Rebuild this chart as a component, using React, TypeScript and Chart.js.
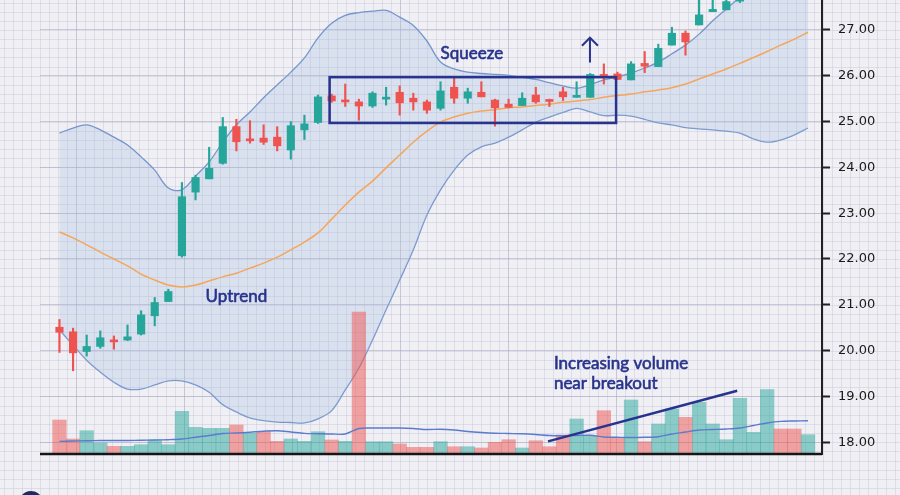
import React, { useEffect, useRef } from 'react';
import { Chart, registerables } from 'chart.js';

Chart.register(...registerables);

// ---- Candles (price) ----
const OPEN = [20.51, 20.41, 19.98, 20.09, 20.23, 20.23, 20.36, 20.76, 21.07, 22.07, 23.46, 23.75, 24.09, 24.89, 24.61, 24.64, 24.66, 24.38, 24.82, 24.98, 25.56, 25.47, 25.43, 25.34, 25.49, 25.64, 25.51, 25.43, 25.29, 25.75, 25.51, 25.64, 25.47, 25.38, 25.35, 25.58, 25.46, 25.65, 25.53, 25.53, 26.03, 26.04, 25.91, 26.27, 26.20, 26.67, 26.93, 27.11, 27.40, 27.44, 27.63, 27.90, 28.05, 28.40, 28.25, 28.05];
const HIGH = [20.68, 20.49, 20.34, 20.43, 20.32, 20.56, 20.87, 21.16, 21.34, 23.67, 23.83, 24.44, 25.09, 25.05, 25.02, 24.93, 24.89, 25.00, 25.14, 25.58, 25.60, 25.82, 25.49, 25.65, 25.75, 25.78, 25.62, 25.47, 25.87, 25.97, 25.73, 25.87, 25.49, 25.49, 25.63, 25.75, 25.49, 25.75, 25.87, 26.05, 26.26, 26.08, 26.31, 26.53, 26.69, 27.06, 26.98, 27.80, 27.80, 27.85, 28.00, 28.15, 28.45, 28.50, 28.35, 28.50];
const LOW = [19.96, 19.56, 19.88, 20.05, 20.03, 20.22, 20.34, 20.54, 21.07, 22.04, 23.29, 23.75, 24.07, 24.36, 24.53, 24.50, 24.36, 24.18, 24.61, 24.96, 25.42, 25.33, 25.03, 25.31, 25.36, 25.14, 25.25, 25.18, 25.25, 25.40, 25.40, 25.54, 24.90, 25.30, 25.35, 25.40, 25.33, 25.46, 25.53, 25.53, 25.82, 25.92, 25.91, 26.07, 26.20, 26.67, 26.45, 27.11, 27.40, 27.44, 27.60, 27.85, 28.00, 28.15, 28.00, 28.00];
const CLOSE = [20.40, 19.95, 20.09, 20.28, 20.19, 20.30, 20.78, 21.05, 21.29, 23.36, 23.78, 23.98, 24.89, 24.56, 24.58, 24.55, 24.47, 24.91, 24.95, 25.54, 25.45, 25.43, 25.34, 25.62, 25.51, 25.41, 25.43, 25.25, 25.67, 25.51, 25.65, 25.54, 25.30, 25.31, 25.51, 25.43, 25.44, 25.54, 25.56, 26.03, 25.97, 25.92, 26.26, 26.21, 26.60, 26.93, 26.74, 27.33, 27.45, 27.62, 27.90, 28.10, 28.40, 28.20, 28.05, 28.45];

// ---- Bollinger bands ----
const UPPER = [24.75, 24.86, 24.93, 24.82, 24.66, 24.49, 24.23, 23.94, 23.55, 23.51, 23.81, 24.12, 24.55, 24.93, 25.21, 25.52, 25.80, 26.08, 26.39, 26.83, 27.15, 27.32, 27.38, 27.41, 27.43, 27.28, 27.10, 26.76, 26.30, 26.15, 26.08, 26.05, 26.03, 26.01, 25.97, 25.92, 25.85, 25.78, 25.73, 25.81, 25.91, 25.98, 26.06, 26.17, 26.30, 26.48, 26.67, 26.91, 27.20, 27.46, 27.72, 27.98, 28.22, 28.44, 28.66, 28.86];
const MIDDLE = [22.59, 22.46, 22.31, 22.15, 22.00, 21.85, 21.67, 21.54, 21.43, 21.39, 21.43, 21.52, 21.61, 21.69, 21.80, 21.91, 22.04, 22.20, 22.37, 22.57, 22.87, 23.18, 23.46, 23.70, 23.99, 24.27, 24.55, 24.79, 24.99, 25.10, 25.18, 25.23, 25.26, 25.30, 25.32, 25.35, 25.38, 25.42, 25.45, 25.48, 25.53, 25.57, 25.60, 25.65, 25.69, 25.74, 25.82, 25.93, 26.04, 26.15, 26.27, 26.40, 26.53, 26.67, 26.80, 26.95];
const LOWER = [20.45, 20.12, 19.79, 19.53, 19.31, 19.16, 19.16, 19.25, 19.34, 19.34, 19.25, 19.09, 18.82, 18.66, 18.53, 18.47, 18.44, 18.43, 18.42, 18.51, 18.69, 19.14, 19.62, 20.23, 20.89, 21.54, 22.20, 22.96, 23.51, 23.94, 24.27, 24.45, 24.53, 24.66, 24.82, 24.99, 25.10, 25.20, 25.29, 25.21, 25.13, 25.14, 25.12, 25.05, 24.97, 24.93, 24.87, 24.84, 24.82, 24.79, 24.75, 24.62, 24.55, 24.60, 24.71, 24.86];

// ---- Volume ----
const VOLUME = [34, 15, 23.3, 11, 7.7, 7.7, 9.3, 14, 9.3, 42.7, 26.7, 25.7, 25.7, 29, 20.7, 22.7, 12.7, 15, 12.7, 22.3, 14, 12.7, 142, 12.3, 12.3, 10, 6.7, 6.7, 12.3, 7.3, 7.3, 6, 11.7, 14.3, 6, 13.3, 7.3, 19, 35, 18.3, 43.3, 15.7, 54, 12.3, 30, 45, 36.7, 51.7, 30, 14.3, 55.7, 21.7, 64.3, 25, 25, 19.3];
const VOLUME_DIR = ['d', 'd', 'u', 'u', 'd', 'u', 'u', 'u', 'u', 'u', 'u', 'u', 'u', 'd', 'u', 'd', 'd', 'u', 'u', 'u', 'd', 'u', 'd', 'u', 'u', 'd', 'd', 'd', 'u', 'd', 'u', 'd', 'd', 'd', 'u', 'd', 'd', 'd', 'u', 'u', 'd', 'd', 'u', 'd', 'u', 'u', 'd', 'u', 'u', 'u', 'u', 'u', 'u', 'd', 'd', 'u'];
const VOLUME_MA = [12.6, 13, 13.3, 13.5, 13.5, 13.5, 13.7, 14, 14.3, 15, 16.8, 18.5, 20.5, 21, 21.8, 22.8, 23.3, 22, 20.6, 20.3, 20, 20, 25.5, 26, 26, 26, 25.5, 24.5, 24.8, 24, 22.5, 21.5, 20.8, 20.5, 20.2, 19.5, 18.5, 18.3, 18.5, 18.7, 17, 16.7, 16.5, 16.7, 17.3, 20, 22, 24, 24.5, 25, 26, 28.5, 31, 32.6, 33, 33.3];
const VOLUME_AXIS_MAX = 454;

// ---- Axes ----
const Y_MIN = 17.742;
const Y_MAX = 27.655;
const X_MIN = -1.43;
const X_MAX = 56.03;

// ---- Annotations (data units) ----
const SQUEEZE_BOX = { x0: 19.85, x1: 40.9, yTop: 25.97, yBottom: 24.97 };
const ARROW = { x: 38.98, yBase: 26.29, yTip: 26.83 };
const VOLUME_TREND = { x0: 35.9, v0: 12.6, x1: 49.8, v1: 63.3 };
const LABEL_SQUEEZE = { text: 'Squeeze', x: 30.3, y: 26.48 };
const LABEL_UPTREND = { text: 'Uptrend', x: 13.0, y: 21.17 };
const LABEL_VOLUME = [
  { text: 'Increasing volume', x: 36.33, y: 19.71 },
  { text: 'near breakout', x: 36.33, y: 19.29 },
];

const NAVY = '#27338c';
const UP = '#26a69a';
const DOWN = '#ef5350';

const bgPlugin = {
  id: 'bgGrid',
  beforeDraw(chart: any) {
    const { ctx, width, height, chartArea, scales } = chart;
    const y = scales.y;
    ctx.save();
    ctx.fillStyle = '#efeff4';
    ctx.fillRect(0, 0, width, height);
    ctx.strokeStyle = 'rgba(196,196,216,0.42)';
    ctx.lineWidth = 1;
    ctx.beginPath();
    for (let xx = 4; xx < width; xx += 9) {
      ctx.moveTo(Math.round(xx) + 0.5, 0);
      ctx.lineTo(Math.round(xx) + 0.5, height);
    }
    const p27 = y.getPixelForValue(27);
    const step = (y.getPixelForValue(26) - p27) / 5;
    let start = p27 % step;
    for (let yy = start; yy < height; yy += step) {
      ctx.moveTo(0, Math.round(yy) + 0.5);
      ctx.lineTo(width, Math.round(yy) + 0.5);
    }
    ctx.stroke();
    ctx.strokeStyle = 'rgba(170,170,196,0.45)';
    ctx.beginPath();
    for (let xx = 616; xx > chartArea.left; xx -= 108) {
      ctx.moveTo(xx + 0.5, chartArea.top);
      ctx.lineTo(xx + 0.5, chartArea.bottom);
    }
    ctx.stroke();
    ctx.restore();
  },
};

function drawLabel(ctx: any, text: string, px: number, py: number) {
  ctx.fillText(text, px, py);
  ctx.strokeText(text, px, py);
}

const annotPlugin = {
  id: 'annot',
  afterDatasetsDraw(chart: any) {
    const { ctx, chartArea, scales } = chart;
    const x = scales.x, y = scales.y, yv = scales.yv;
    ctx.save();
    // x axis line
    ctx.strokeStyle = '#161616';
    ctx.lineWidth = 2.5;
    ctx.beginPath();
    ctx.moveTo(chartArea.left, chartArea.bottom);
    ctx.lineTo(chartArea.right, chartArea.bottom);
    ctx.stroke();

    // squeeze box
    ctx.strokeStyle = NAVY;
    ctx.lineWidth = 2.5;
    const bx0 = x.getPixelForValue(SQUEEZE_BOX.x0);
    const bx1 = x.getPixelForValue(SQUEEZE_BOX.x1);
    const by0 = y.getPixelForValue(SQUEEZE_BOX.yTop);
    const by1 = y.getPixelForValue(SQUEEZE_BOX.yBottom);
    ctx.strokeRect(bx0, by0, bx1 - bx0, by1 - by0);

    // arrow
    const ax = x.getPixelForValue(ARROW.x);
    const ay0 = y.getPixelForValue(ARROW.yBase);
    const ay1 = y.getPixelForValue(ARROW.yTip);
    ctx.lineWidth = 2;
    ctx.beginPath();
    ctx.moveTo(ax, ay0);
    ctx.lineTo(ax, ay1);
    ctx.moveTo(ax - 8, ay1 + 8);
    ctx.lineTo(ax, ay1);
    ctx.lineTo(ax + 8, ay1 + 8);
    ctx.stroke();

    // volume trend line
    ctx.lineWidth = 2.5;
    ctx.beginPath();
    ctx.moveTo(x.getPixelForValue(VOLUME_TREND.x0), yv.getPixelForValue(VOLUME_TREND.v0));
    ctx.lineTo(x.getPixelForValue(VOLUME_TREND.x1), yv.getPixelForValue(VOLUME_TREND.v1));
    ctx.stroke();

    // labels
    ctx.fillStyle = NAVY;
    ctx.strokeStyle = NAVY;
    ctx.lineWidth = 0.6;
    ctx.font = '17px Lato, "Open Sans", sans-serif';
    ctx.textBaseline = 'middle';
    ctx.textAlign = 'center';
    drawLabel(ctx, LABEL_SQUEEZE.text, x.getPixelForValue(LABEL_SQUEEZE.x), y.getPixelForValue(LABEL_SQUEEZE.y));
    drawLabel(ctx, LABEL_UPTREND.text, x.getPixelForValue(LABEL_UPTREND.x), y.getPixelForValue(LABEL_UPTREND.y));
    ctx.textAlign = 'left';
    LABEL_VOLUME.forEach((l) => {
      drawLabel(ctx, l.text, x.getPixelForValue(l.x), y.getPixelForValue(l.y));
    });

    // partial logo at bottom-left
    ctx.lineWidth = 4;
    ctx.strokeStyle = '#1f2a66';
    ctx.beginPath();
    ctx.arc(31, 503, 10, Math.PI * 1.1, Math.PI * 1.9);
    ctx.stroke();
    ctx.restore();
  },
};

export default function App() {
  const canvasRef = useRef<HTMLCanvasElement | null>(null);

  useEffect(() => {
    document.body.style.margin = '0';
    const canvas = canvasRef.current;
    if (!canvas) return;
    const idx = OPEN.map((_, i) => i);
    const candleColors = idx.map((i) => (CLOSE[i] >= OPEN[i] ? UP : DOWN));
    const volColors = VOLUME_DIR.map((d) => (d === 'u' ? 'rgba(38,166,154,0.5)' : 'rgba(239,83,80,0.5)'));

    const chart = new Chart(canvas, {
      type: 'bar',
      data: {
        datasets: [
          {
            type: 'line',
            label: 'Upper band',
            data: idx.map((i) => ({ x: i, y: UPPER[i] })),
            borderColor: '#7596cc',
            borderWidth: 1.3,
            pointRadius: 0,
            tension: 0.35,
            fill: '+1',
            backgroundColor: 'rgba(165,188,226,0.3)',
            yAxisID: 'y',
            order: 10,
          },
          {
            type: 'line',
            label: 'Lower band',
            data: idx.map((i) => ({ x: i, y: LOWER[i] })),
            borderColor: '#7596cc',
            borderWidth: 1.3,
            pointRadius: 0,
            tension: 0.35,
            fill: false,
            yAxisID: 'y',
            order: 10,
          },
          {
            type: 'bar',
            label: 'Volume',
            data: idx.map((i) => ({ x: i, y: VOLUME[i] })),
            backgroundColor: volColors,
            barPercentage: 1,
            categoryPercentage: 1,
            grouped: false,
            yAxisID: 'yv',
            order: 8,
          },
          {
            type: 'line',
            label: 'Volume MA',
            data: idx.map((i) => ({ x: i, y: VOLUME_MA[i] })),
            borderColor: '#5b7bcc',
            borderWidth: 1.4,
            pointRadius: 0,
            tension: 0.3,
            fill: false,
            yAxisID: 'yv',
            order: 7,
          },
          {
            type: 'line',
            label: 'Middle band',
            data: idx.map((i) => ({ x: i, y: MIDDLE[i] })),
            borderColor: '#f5a65b',
            borderWidth: 1.5,
            pointRadius: 0,
            tension: 0.35,
            fill: false,
            yAxisID: 'y',
            order: 6,
          },
          {
            type: 'bar',
            label: 'Wick',
            data: idx.map((i) => ({ x: i, y: [LOW[i], HIGH[i]] })),
            backgroundColor: candleColors,
            barThickness: 1.5,
            grouped: false,
            yAxisID: 'y',
            order: 2,
          },
          {
            type: 'bar',
            label: 'Body',
            data: idx.map((i) => ({ x: i, y: [OPEN[i], CLOSE[i]] })),
            backgroundColor: candleColors,
            barThickness: 7.5,
            minBarLength: 2,
            grouped: false,
            yAxisID: 'y',
            order: 1,
          },
        ] as any,
      },
      options: {
        responsive: false,
        maintainAspectRatio: false,
        animation: false,
        layout: { padding: { left: 40, right: 0, top: 0, bottom: 41 } },
        plugins: { legend: { display: false }, tooltip: { enabled: false } },
        scales: {
          x: { type: 'linear', min: X_MIN, max: X_MAX, offset: false, display: false },
          y: {
            position: 'right',
            min: Y_MIN,
            max: Y_MAX,
            ticks: {
              stepSize: 1,
              includeBounds: false,
              callback: (v: any) => Number(v).toFixed(2),
              font: { family: '"DejaVu Sans", sans-serif', size: 13 },
              color: '#1a1a1a',
              padding: 8,
            },
            grid: {
              color: 'rgba(165,165,192,0.55)',
              lineWidth: 1,
              tickColor: '#222',
              tickLength: 8,
              tickWidth: 2,
            },
            border: { display: true, color: '#222', width: 2 },
            afterFit: (s: any) => {
              s.width = 78;
              s.paddingTop = 0;
              s.paddingBottom = 0;
            },
          },
          yv: { display: false, min: 0, max: VOLUME_AXIS_MAX },
        },
      } as any,
      plugins: [bgPlugin, annotPlugin],
    });
    return () => chart.destroy();
  }, []);

  return (
    <div style={{ position: 'absolute', left: 0, top: 0, width: 900, height: 495 }}>
      <canvas ref={canvasRef} width={900} height={495} style={{ display: 'block' }} />
    </div>
  );
}
